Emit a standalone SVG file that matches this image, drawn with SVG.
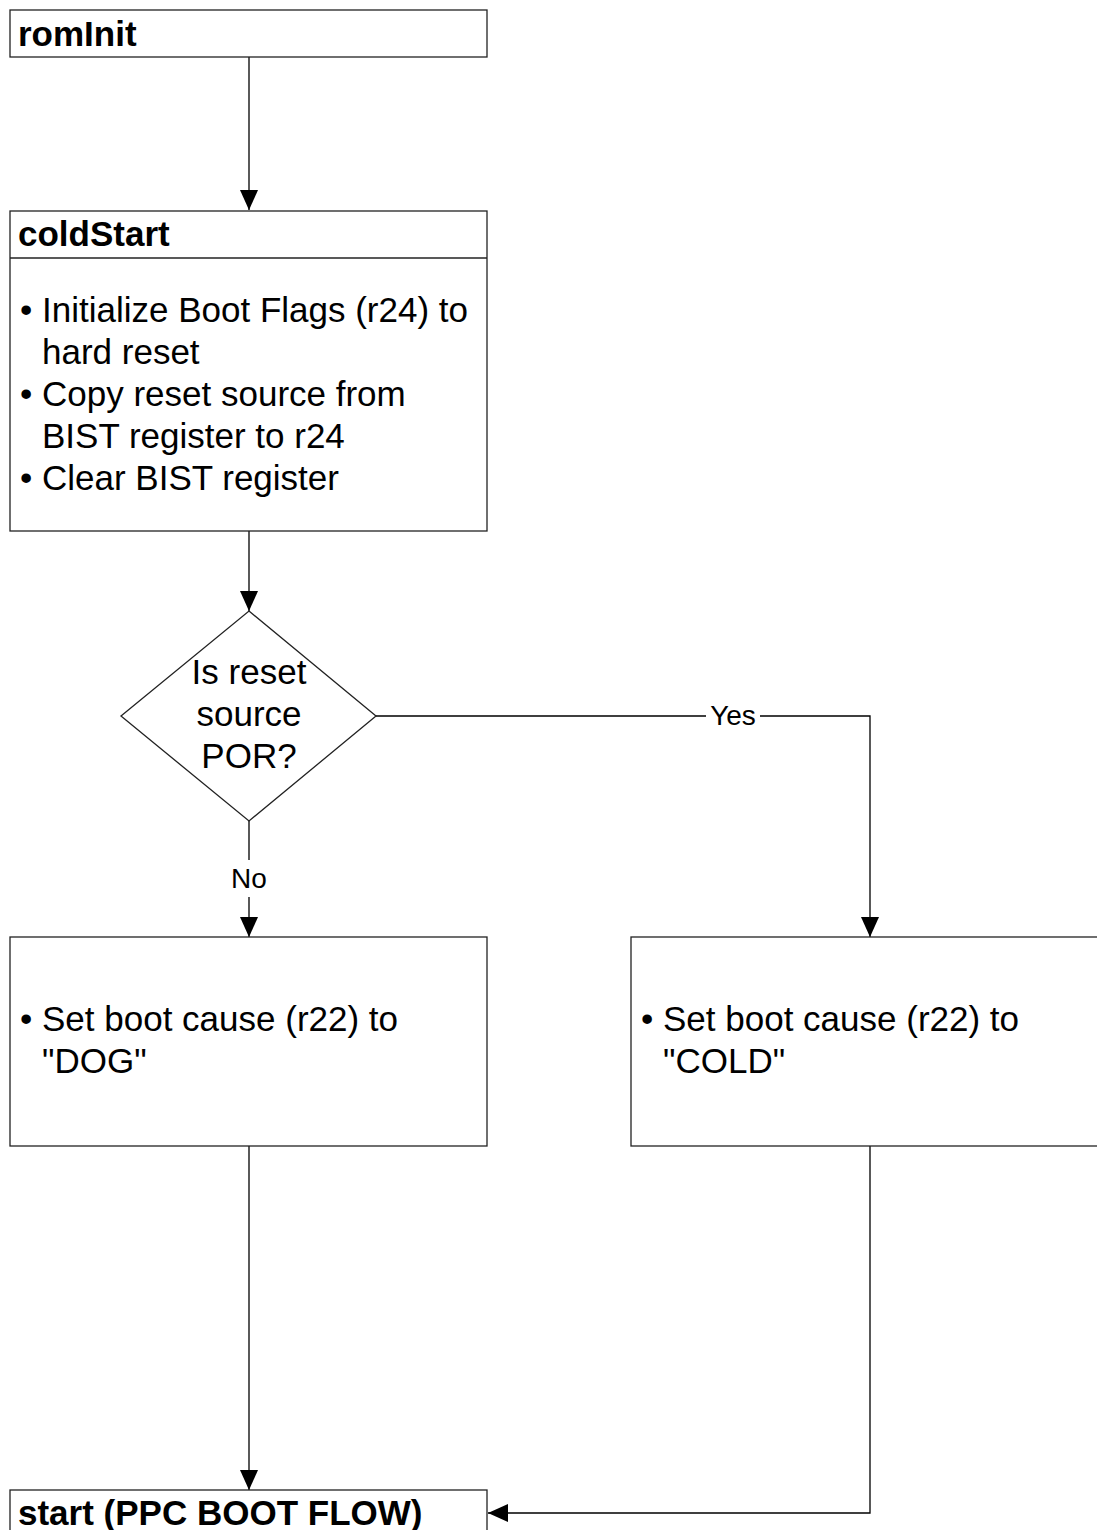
<svg xmlns="http://www.w3.org/2000/svg" width="1097" height="1530" viewBox="0 0 1097 1530">
<style>
.box{fill:#fff;stroke:#222;stroke-width:1.3}
.ln{fill:none;stroke:#000;stroke-width:1.3}
.t{font-family:"Liberation Sans",Arial,sans-serif;font-size:35px;fill:#000}
.h{font-family:"Liberation Sans",Arial,sans-serif;font-size:35px;font-weight:bold;fill:#000}
.lbl{font-family:"Liberation Sans",Arial,sans-serif;font-size:28px;fill:#000;text-anchor:middle}
</style>
<defs>
<marker id="arr" markerWidth="20" markerHeight="18" refX="20" refY="9" orient="auto" markerUnits="userSpaceOnUse">
<path d="M0,0 L20,9 L0,18 Z" fill="#000"/>
</marker>
</defs>
<rect width="1097" height="1530" fill="#fff"/>
<g id="connectors">
<path class="ln" d="M249,57 V210" marker-end="url(#arr)"/>
<path class="ln" d="M249,531 V611" marker-end="url(#arr)"/>
<path class="ln" d="M249,821 V860 M249,897 V937" marker-end="url(#arr)"/>
<text class="lbl" x="249" y="888">No</text>
<path class="ln" d="M376,716 H706 M760,716 H870 V937" marker-end="url(#arr)"/>
<text class="lbl" x="733" y="725">Yes</text>
<path class="ln" d="M249,1146 V1490" marker-end="url(#arr)"/>
<path class="ln" d="M870,1146 V1513 H488" marker-end="url(#arr)"/>
</g>
<g id="romInit">
<rect class="box" x="10" y="10" width="477" height="47"/>
<text class="h" x="18" y="46">romInit</text>
</g>
<g id="coldStart">
<rect class="box" x="10" y="211" width="477" height="320"/>
<line class="box" x1="10" y1="258" x2="487" y2="258"/>
<text class="h" x="18" y="246">coldStart</text>
<text class="t" x="20" y="322">•</text><text class="t" x="42" y="322">Initialize Boot Flags (r24) to</text>
<text class="t" x="42" y="364">hard reset</text>
<text class="t" x="20" y="406">•</text><text class="t" x="42" y="406">Copy reset source from</text>
<text class="t" x="42" y="448">BIST register to r24</text>
<text class="t" x="20" y="490">•</text><text class="t" x="42" y="490">Clear BIST register</text>
</g>
<g id="decision">
<polygon class="box" points="249,611 376,716 249,821 121,716"/>
<text class="t" x="249" y="684" text-anchor="middle">Is reset</text>
<text class="t" x="249" y="726" text-anchor="middle">source</text>
<text class="t" x="249" y="768" text-anchor="middle">POR?</text>
</g>
<g id="dog">
<rect class="box" x="10" y="937" width="477" height="209"/>
<text class="t" x="20" y="1031">•</text><text class="t" x="42" y="1031">Set boot cause (r22) to</text>
<text class="t" x="42" y="1073">"DOG"</text>
</g>
<g id="cold">
<rect class="box" x="631" y="937" width="480" height="209"/>
<text class="t" x="641" y="1031">•</text><text class="t" x="663" y="1031">Set boot cause (r22) to</text>
<text class="t" x="663" y="1073">"COLD"</text>
</g>
<g id="start">
<rect class="box" x="10" y="1490" width="477" height="60"/>
<text class="h" x="18" y="1525">start (PPC BOOT FLOW)</text>
</g>
</svg>
